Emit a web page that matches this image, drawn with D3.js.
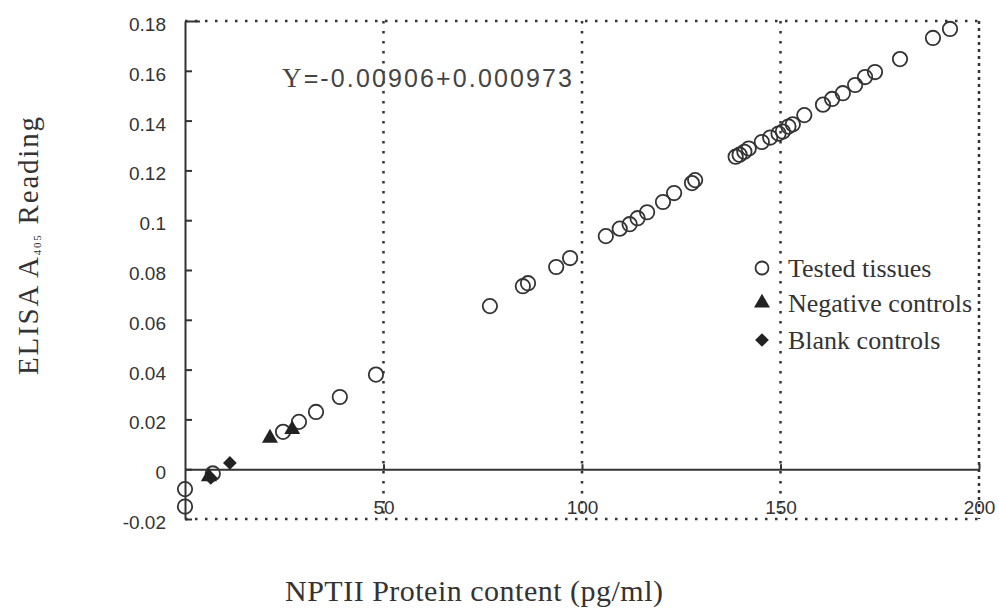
<!DOCTYPE html>
<html>
<head>
<meta charset="utf-8">
<script src="https://cdn.jsdelivr.net/npm/d3@7"></script>
<style>
  body { margin: 0; background: #fff; }
  svg { display: block; }
</style>
</head>
<body>
<script>
// values
var tissueX = [0, 0, 7, 24.7, 28.7, 33, 39, 48.1, 76.8, 85.1, 86.4, 93.5, 97, 106, 109.5, 112, 114, 116.4,
               120.4, 123.2, 127.7, 128.5, 138.7, 139.7, 140.9, 142, 145.3, 147.4, 149.5, 150.6, 152,
               153.1, 156, 160.7, 163, 165.7, 168.8, 171.3, 173.8, 180.1, 188.4, 192.7];
var tissueY = [-0.008, -0.015, -0.0017, 0.015, 0.019, 0.023, 0.029, 0.038, 0.0655, 0.0735, 0.0747, 0.0812,
               0.0848, 0.0936, 0.0966, 0.0984, 0.1008, 0.1032, 0.1073, 0.1109, 0.1149, 0.1161, 0.1255,
               0.1263, 0.1275, 0.1288, 0.1314, 0.1332, 0.1348, 0.1356, 0.1376, 0.1385, 0.1422, 0.1464,
               0.1487, 0.151, 0.1543, 0.1575, 0.1595, 0.1647, 0.1732, 0.1768];
var negX = [6, 21.4, 27];
var negY = [-0.003, 0.0125, 0.016];
var blankX = [6.5, 11.3];
var blankY = [-0.0035, 0.0025];

var yTicks = [-0.02, 0, 0.02, 0.04, 0.06, 0.08, 0.1, 0.12, 0.14, 0.16, 0.18];
var yTickLabels = ["-0.02", "0", "0.02", "0.04", "0.06", "0.08", "0.1", "0.12", "0.14", "0.16", "0.18"];
var xTicks = [50, 100, 150, 200];
var xTickLabels = ["50", "100", "150", "200"];
var legendNames = ["Tested tissues", "Negative controls", "Blank controls"];
var equation = ["Y", "=-0.00906+0.000973"];

var w = 999, h = 611;
var plotL = 185, plotR = 979, plotT = 21, plotB = 519;

var x = d3.scaleLinear().domain([0, 200]).range([plotL, plotR]);
var y = d3.scaleLinear().domain([-0.02, 0.18]).range([plotB, plotT]);

var svg = d3.select("body").append("svg")
            .attr("width", w)
            .attr("height", h);

var ink = "#333";

// dotted frame and grid
svg.append("line")
   .attr("x1", plotL).attr("x2", plotR).attr("y1", plotT).attr("y2", plotT)
   .attr("stroke", ink).attr("stroke-width", 2.5).attr("stroke-dasharray", "2.5,7.5");
svg.append("line")
   .attr("x1", plotL).attr("x2", plotR).attr("y1", plotB).attr("y2", plotB)
   .attr("stroke", ink).attr("stroke-width", 2.5).attr("stroke-dasharray", "2.5,7.5");
svg.append("line")
   .attr("x1", plotR).attr("x2", plotR).attr("y1", plotT).attr("y2", plotB)
   .attr("stroke", ink).attr("stroke-width", 2.5).attr("stroke-dasharray", "3,4");

svg.selectAll("line.grid")
   .data([50, 100, 150])
   .enter()
   .append("line")
   .attr("class", "grid")
   .attr("x1", function(d){ return x(d); })
   .attr("x2", function(d){ return x(d); })
   .attr("y1", plotT).attr("y2", plotB)
   .attr("stroke", ink).attr("stroke-width", 2.5).attr("stroke-dasharray", "2.5,7.5");

// y axis
var yAxis = d3.axisLeft(y)
              .tickValues(yTicks)
              .tickFormat(function(d, i){ return yTickLabels[i]; })
              .tickSizeInner(-7)
              .tickSizeOuter(0)
              .tickPadding(19);

var gy = svg.append("g")
            .attr("transform", "translate(" + plotL + ",0)")
            .call(yAxis);
gy.select(".domain").attr("stroke", ink).attr("stroke-width", 2);
gy.selectAll(".tick line").attr("stroke", ink).attr("stroke-width", 2);
gy.selectAll(".tick text")
  .attr("dy", "0.5em")
  .style("font-family", "'Liberation Sans', Arial, sans-serif")
  .style("font-size", "19px")
  .attr("fill", ink);
gy.selectAll(".tick").filter(function(d){ return d === 0.18; })
  .select("line").attr("x2", 15);

// x axis along zero
var xAxis = d3.axisBottom(x)
              .tickValues(xTicks)
              .tickFormat(function(d, i){ return xTickLabels[i]; })
              .tickSizeInner(-5)
              .tickSizeOuter(0)
              .tickPadding(31);

var gx = svg.append("g")
            .attr("transform", "translate(0," + y(0) + ")")
            .call(xAxis);
gx.select(".domain").attr("stroke", ink).attr("stroke-width", 2);
gx.selectAll(".tick line").attr("stroke", ink).attr("stroke-width", 2);
gx.selectAll(".tick text")
  .style("font-family", "'Liberation Sans', Arial, sans-serif")
  .style("font-size", "19px")
  .attr("fill", ink);

// points
svg.selectAll("circle.tissue")
   .data(d3.range(tissueX.length))
   .enter()
   .append("circle")
   .attr("class", "tissue")
   .attr("cx", function(i){ return x(tissueX[i]); })
   .attr("cy", function(i){ return y(tissueY[i]); })
   .attr("r", 7.2)
   .attr("fill", "none")
   .attr("stroke", ink)
   .attr("stroke-width", 1.8);

var tri = d3.symbol().type(d3.symbolTriangle).size(110);
var dia = d3.symbol().type(d3.symbolDiamond2).size(120);

svg.selectAll("path.neg")
   .data(d3.range(negX.length))
   .enter()
   .append("path")
   .attr("class", "neg")
   .attr("d", tri)
   .attr("transform", function(i){ return "translate(" + x(negX[i]) + "," + y(negY[i]) + ")"; })
   .attr("fill", "#222");

svg.selectAll("path.blank")
   .data(d3.range(blankX.length))
   .enter()
   .append("path")
   .attr("class", "blank")
   .attr("d", dia)
   .attr("transform", function(i){ return "translate(" + x(blankX[i]) + "," + y(blankY[i]) + ")"; })
   .attr("fill", "#222");

// legend
var legY = [268, 303, 340];
var legend = svg.append("g");
legend.append("circle")
      .attr("cx", 762).attr("cy", legY[0]).attr("r", 6.5)
      .attr("fill", "none").attr("stroke", ink).attr("stroke-width", 1.8);
legend.append("path").attr("d", tri)
      .attr("transform", "translate(762," + legY[1] + ")").attr("fill", "#222");
legend.append("path").attr("d", dia)
      .attr("transform", "translate(762," + legY[2] + ")").attr("fill", "#222");
legend.selectAll("text")
      .data(legendNames)
      .enter()
      .append("text")
      .attr("x", 788)
      .attr("y", function(d, i){ return legY[i] + 9; })
      .style("font-family", "'Liberation Serif', 'Times New Roman', serif")
      .style("font-size", "26px")
      .attr("fill", ink)
      .text(function(d){ return d; });

// regression text
var eq = svg.append("text")
            .attr("x", 282).attr("y", 87)
            .attr("textLength", 290).attr("lengthAdjust", "spacing")
            .style("font-size", "25px")
            .attr("fill", "#444");
eq.append("tspan")
  .style("font-family", "'Liberation Serif', 'Times New Roman', serif")
  .style("font-size", "27px")
  .text(equation[0]);
eq.append("tspan")
  .style("font-family", "'Liberation Sans', Arial, sans-serif")
  .text(equation[1]);

// axis titles
svg.append("text")
   .attr("x", 285).attr("y", 601)
   .attr("textLength", 378).attr("lengthAdjust", "spacing")
   .style("font-family", "'Liberation Serif', 'Times New Roman', serif")
   .style("font-size", "30px")
   .attr("fill", ink)
   .text("NPTII Protein content (pg/ml)");

var yt = svg.append("text")
            .attr("transform", "translate(38,246) rotate(-90)")
            .attr("text-anchor", "middle")
            .attr("textLength", 258).attr("lengthAdjust", "spacing")
            .style("font-family", "'Liberation Serif', 'Times New Roman', serif")
            .style("font-size", "29px")
            .attr("fill", ink);
yt.append("tspan").text("ELISA A");
yt.append("tspan").attr("dy", 3).style("font-size", "11px").text("405");
yt.append("tspan").attr("dy", -3).text(" Reading");
</script>
</body>
</html>
